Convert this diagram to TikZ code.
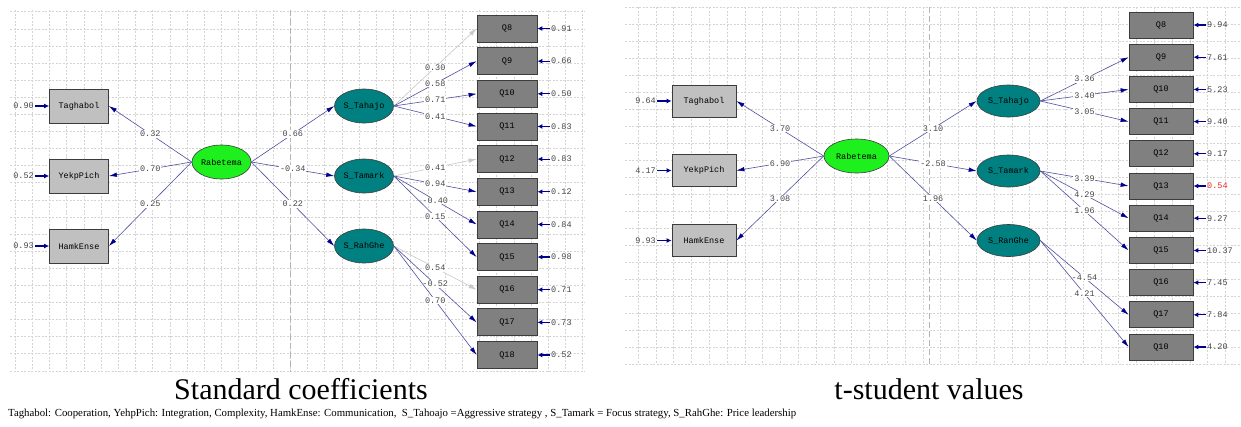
\documentclass[tikz,border=0pt]{standalone}
\usepackage{fontspec}
\setmainfont{Liberation Serif}
\newfontfamily\monof{Liberation Mono}
\usetikzlibrary{shapes.geometric,arrows.meta}
\definecolor{gridc}{RGB}{212,212,212}
\definecolor{midc}{RGB}{180,180,180}
\definecolor{linec}{RGB}{80,80,160}
\definecolor{headc}{RGB}{0,0,140}
\definecolor{grayl}{RGB}{200,200,200}
\definecolor{boxb}{RGB}{60,60,60}
\definecolor{indf}{RGB}{192,192,192}
\definecolor{qf}{RGB}{128,128,128}
\definecolor{greenf}{RGB}{30,240,30}
\definecolor{tealf}{RGB}{0,128,128}
\definecolor{labc}{RGB}{70,70,70}
\definecolor{errred}{RGB}{230,40,40}
\begin{document}
\begin{tikzpicture}[x=1pt,y=-1pt,
  mono/.style={font=\monof\fontsize{8.5}{9}\selectfont},
  grid/.style={draw=gridc,line width=0.6pt,dash pattern=on 2pt off 1.5pt},
  midline/.style={draw=midc,line width=0.7pt,dash pattern=on 6pt off 3pt},
  indL/.style={mono,draw=boxb,fill=indf,minimum width=59pt,minimum height=34pt,inner sep=0pt,line width=0.8pt},
  indR/.style={indL,minimum width=64pt,minimum height=32pt},
  qbL/.style={mono,draw=boxb,fill=qf,minimum width=60pt,minimum height=27pt,inner sep=0pt,line width=0.8pt},
  qbR/.style={qbL,minimum width=64pt,minimum height=26pt},
  latL/.style={mono,ellipse,draw=boxb,fill=tealf,minimum width=59pt,minimum height=34pt,inner sep=0pt,line width=0.6pt},
  latR/.style={latL,minimum width=63pt,minimum height=32pt},
  rabL/.style={latL,fill=greenf},
  rabR/.style={latL,fill=greenf,minimum width=65pt,minimum height=34pt},
  pth/.style={draw=linec,line width=0.6pt,-{Latex[length=8pt,width=4.5pt,color=headc]}},
  gpth/.style={draw=grayl,line width=0.6pt,-{Latex[length=8pt,width=4.5pt,color=grayl]}},
  lab/.style={mono,midway,fill=white,inner sep=0.8pt,text=labc},
  errlab/.style={mono,inner sep=1pt,text=labc},
  err/.style={draw=headc,line width=1.2pt,-{Latex[length=5pt,width=5pt]}}
]
\useasboundingbox[fill=white] (0,0) rectangle (1241,426);

% ---------- grids ----------
\foreach \i in {0,...,33} {\draw[grid] ({15+17.2*\i},10) -- ({15+17.2*\i},372);}
\foreach \j in {0,...,21} {\draw[grid] (10,{11.7+17.1*\j}) -- (585,{11.7+17.1*\j});}
\draw[midline] (290,10) -- (290,372);
\foreach \i in {0,...,33} {\draw[grid] ({638+17.8*\i},7) -- ({638+17.8*\i},364);}
\foreach \j in {0,...,21} {\draw[grid] (625,{7+17*\j}) -- (1241,{7+17*\j});}
\draw[midline] (929,7) -- (929,364);

% ---------- left panel ----------
\node[indL] (TagL) at (79,106) {Taghabol};
\node[indL] (YekL) at (79,176) {YekpPich};
\node[indL] (HamL) at (79,246) {HamkEnse};
\node[rabL] (RabL) at (221.5,162) {Rabetema};
\node[latL] (STaL) at (364,106) {S\_Tahajo};
\node[latL] (STmL) at (364,176) {S\_Tamark};
\node[latL] (SRhL) at (364,246) {S\_RahGhe};

\node[errlab,anchor=east] (eTagL) at (35,106) {0.90};
\node[errlab,anchor=east] (eYekL) at (35,176) {0.52};
\node[errlab,anchor=east] (eHamL) at (35,246) {0.93};
\draw[err] (eTagL.east) -- (TagL.west);
\draw[err] (eYekL.east) -- (YekL.west);
\draw[err] (eHamL.east) -- (HamL.west);

\foreach \k/\q/\e in {0/Q8/0.91,1/Q9/0.66,2/Q10/0.50,3/Q11/0.83,4/Q12/0.83,5/Q13/0.12,6/Q14/0.84,7/Q15/0.98,8/Q16/0.71,9/Q17/0.73,10/Q18/0.52} {
  \node[qbL] (QL\k) at (507,{28.5+32.65*\k}) {\q};
  \node[errlab,anchor=west] (eQL\k) at (550,{28.5+32.65*\k}) {\e};
  \draw[err] (eQL\k.west) -- (QL\k.east);
}

\draw[pth] (RabL.west) -- node[lab]{0.32} (TagL.east);
\draw[pth] (RabL.west) -- node[lab]{0.70} (YekL.east);
\draw[pth] (RabL.west) -- node[lab]{0.25} (HamL.east);
\draw[pth] (RabL.east) -- node[lab]{0.66} (STaL.west);
\draw[pth] (RabL.east) -- node[lab]{-0.34} (STmL.west);
\draw[pth] (RabL.east) -- node[lab]{0.22} (SRhL.west);
\draw[gpth] (STaL.east) -- node[lab]{0.30} (QL0.west);
\draw[pth] (STaL.east) -- node[lab]{0.58} (QL1.west);
\draw[pth] (STaL.east) -- node[lab]{0.71} (QL2.west);
\draw[pth] (STaL.east) -- node[lab]{0.41} (QL3.west);
\draw[gpth] (STmL.east) -- node[lab]{0.41} (QL4.west);
\draw[pth] (STmL.east) -- node[lab]{0.94} (QL5.west);
\draw[pth] (STmL.east) -- node[lab]{-0.40} (QL6.west);
\draw[pth] (STmL.east) -- node[lab]{0.15} (QL7.west);
\draw[gpth] (SRhL.east) -- node[lab]{0.54} (QL8.west);
\draw[pth] (SRhL.east) -- node[lab]{-0.52} (QL9.west);
\draw[pth] (SRhL.east) -- node[lab]{0.70} (QL10.west);

% ---------- right panel ----------
\node[indR] (TagR) at (704,101) {Taghabol};
\node[indR] (YekR) at (704,170.5) {YekpPich};
\node[indR] (HamR) at (704,240.5) {HamkEnse};
\node[rabR] (RabR) at (856.5,156) {Rabetema};
\node[latR] (STaR) at (1008.5,101) {S\_Tahajo};
\node[latR] (STmR) at (1008.5,171) {S\_Tamark};
\node[latR] (SRhR) at (1008.5,240.5) {S\_RanGhe};

\node[errlab,anchor=east] (eTagR) at (657,101) {9.64};
\node[errlab,anchor=east] (eYekR) at (657,170.5) {4.17};
\node[errlab,anchor=east] (eHamR) at (657,240.5) {9.93};
\draw[err] (eTagR.east) -- (TagR.west);
\draw[err] (eYekR.east) -- (YekR.west);
\draw[err] (eHamR.east) -- (HamR.west);

\foreach \k/\q/\e in {0/Q8/9.94,1/Q9/7.61,2/Q10/5.23,3/Q11/9.40,4/Q12/9.17,5/Q13/\textcolor{errred}{0.54},6/Q14/9.27,7/Q15/10.37,8/Q16/7.45,9/Q17/7.84,10/Q10/4.20} {
  \node[qbR] (QR\k) at (1161,{25+32.2*\k}) {\q};
  \node[errlab,anchor=west] (eQR\k) at (1206,{25+32.2*\k}) {\e};
  \draw[err] (eQR\k.west) -- (QR\k.east);
}

\draw[pth] (RabR.west) -- node[lab]{3.70} (TagR.east);
\draw[pth] (RabR.west) -- node[lab]{6.90} (YekR.east);
\draw[pth] (RabR.west) -- node[lab]{3.08} (HamR.east);
\draw[pth] (RabR.east) -- node[lab]{3.10} (STaR.west);
\draw[pth] (RabR.east) -- node[lab]{-2.58} (STmR.west);
\draw[pth] (RabR.east) -- node[lab]{1.96} (SRhR.west);
\draw[pth] (STaR.east) -- node[lab]{3.36} (QR1.west);
\draw[pth] (STaR.east) -- node[lab]{3.40} (QR2.west);
\draw[pth] (STaR.east) -- node[lab]{3.05} (QR3.west);
\draw[pth] (STmR.east) -- node[lab]{3.39} (QR5.west);
\draw[pth] (STmR.east) -- node[lab]{4.29} (QR6.west);
\draw[pth] (STmR.east) -- node[lab]{1.96} (QR7.west);
\draw[pth] (SRhR.east) -- node[lab]{-4.54} (QR9.west);
\draw[pth] (SRhR.east) -- node[lab]{4.21} (QR10.west);

% ---------- captions ----------
\node[anchor=base,inner sep=0pt,font=\fontsize{30}{32}\selectfont] (capL) at (301,399) {Standard coefficients};
\node[anchor=base,inner sep=0pt,font=\fontsize{30}{32}\selectfont] (capR) at (929,399) {t-student values};
\node[anchor=base west,inner sep=0pt,font=\fontsize{10.8}{12}\selectfont] (legend) at (8,416) {Taghabol: Cooperation, YehpPich: Integration, Complexity, HamkEnse: Communication, \ S\_Tahoajo =Aggressive strategy , S\_Tamark = Focus strategy, S\_RahGhe: Price leadership};
\end{tikzpicture}
\end{document}
